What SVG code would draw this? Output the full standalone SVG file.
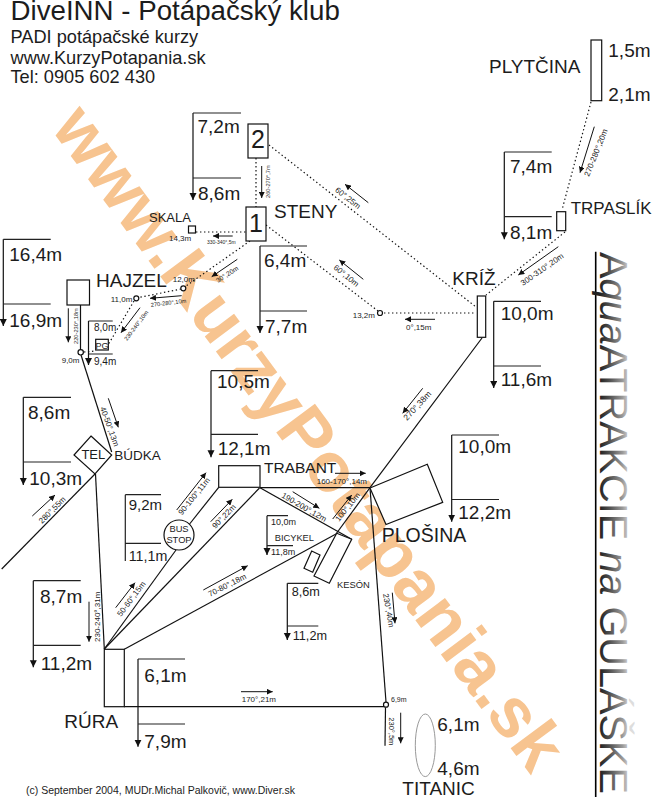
<svg xmlns="http://www.w3.org/2000/svg" width="653" height="800" viewBox="0 0 653 800">
<style>
text{font-family:"Liberation Sans",Arial,sans-serif;fill:#1c1c1c}
.wm{font-size:70px;font-weight:bold;fill:#f7c490}
.s{fill:#fff;stroke:#111;stroke-width:1.2}
.l{fill:none;stroke:#111;stroke-width:1.2}
.d{fill:none;stroke:#111;stroke-width:1.2;stroke-dasharray:1.4 2.6}
.a{fill:none;stroke:#111;stroke-width:1;marker-end:url(#ah)}
.b{fill:none;stroke:#222;stroke-width:1.2}
.bv{fill:none;stroke:#111;stroke-width:1.2;marker-end:url(#ah2)}
.n{font-size:19px}
.m{font-size:19px}
.t5{font-size:5.7px}
.t8{font-size:8px}
</style>
<defs>
<marker id="ah" markerUnits="userSpaceOnUse" markerWidth="7" markerHeight="6" refX="6" refY="3" orient="auto"><path d="M0 0L6 3L0 6z" fill="#111"/></marker>
<marker id="ah2" markerUnits="userSpaceOnUse" markerWidth="8" markerHeight="8" refX="7" refY="3.5" orient="auto"><path d="M0 0L7 3.5L0 7z" fill="#111"/></marker>
<linearGradient id="gr" gradientUnits="userSpaceOnUse" x1="0" y1="0" x2="0" y2="-30"><stop offset="0" stop-color="#222"/><stop offset="0.35" stop-color="#555"/><stop offset="0.75" stop-color="#999"/><stop offset="1" stop-color="#ddd"/></linearGradient>
</defs>
<text class="wm" transform="translate(50 128) rotate(53.4)">www.KurzyPotapania.sk</text>

<g id="header">
<text x="10.5" y="20" font-size="27.7">DiveINN - Potápačský klub</text>
<text x="10.5" y="43.3" font-size="18.2">PADI potápačské kurzy</text>
<text x="10.5" y="64" font-size="18.2">www.KurzyPotapania.sk</text>
<text x="10.5" y="83.3" font-size="18.2">Tel: 0905 602 430</text>
</g>

<g id="connectors">
<path class="d" d="M256 158V207"/>
<path class="d" d="M269 145L476 307"/>
<path class="d" d="M266 225L378 311"/>
<path class="d" d="M196 232H246"/>
<path class="d" d="M384 313H476"/>
<path class="d" d="M591 102L562 210"/>
<path class="d" d="M565 232L486 295"/>
<path class="d" d="M250 241L186 286"/>
<path class="d" d="M181 289L139 297.5"/>
<path class="d" d="M134 301L108 345"/>
<path class="d" d="M84 352L96 351"/>
<path class="l" d="M80.5 305V350"/>
<path class="l" d="M81 355L111.7 452"/>
<path class="l" d="M95 474L1.7 569"/>
<path class="l" d="M95.5 474L104.3 649"/>
<path class="l" d="M482 338L370 487.7"/>
<path class="l" d="M260 487.7H370"/>
<path class="l" d="M260 487.7L351.7 539.3"/>
<path class="l" d="M370 487.7L336 534"/>
<path class="l" d="M336 534L124.3 649.3"/>
<path class="l" d="M218.7 487.3L189.6 524"/>
<path class="l" d="M176 550L104.3 649"/>
<path class="l" d="M259.5 488L104.3 649"/>
<path class="l" d="M370 487.7L386 702"/>
<path class="l" d="M124 706.7H384"/>
<path class="l" d="M385.5 707.5L385 745.7"/>

<path class="a" d="M261.7 166V198"/>
<text class="t5" transform="translate(270 198) rotate(-90)">260-270°,7m</text>
<path class="a" d="M232.7 236H213"/>
<text font-size="5" x="207" y="244">330-340°,5m</text>
<path class="a" d="M237.3 259.3L211.7 276.7"/>
<text font-size="6.7" transform="translate(218 283) rotate(-33)">30°,20m</text>
<path class="a" d="M181.7 295.7L150 298.3"/>
<text class="t5" transform="translate(151 307) rotate(-7)">270-280°,10m</text>
<path class="a" d="M140 307.7L121 332.7"/>
<text class="t5" transform="translate(127 341) rotate(-53)">230-240°,10m</text>
<path class="a" d="M68.3 308.3V342.3"/>
<text class="t5" transform="translate(77.5 344) rotate(-90)">220-230°,18m</text>
<path class="a" d="M363.3 279.3L339.3 260"/>
<text class="t8" transform="translate(333 268.5) rotate(39)">60°,10m</text>
<path class="a" d="M368.3 202.7L345 184.3"/>
<text class="t8" transform="translate(334.5 191) rotate(38)">60°,25m</text>
<path class="a" d="M435 319.3H405"/>
<text class="t8" x="406" y="330">0°,15m</text>
<path class="a" d="M594.3 126.7L580 172.7"/>
<text class="t8" transform="translate(589 177) rotate(-68)">270-280°,20m</text>
<path class="a" d="M558.3 246.7L518.3 275"/>
<text class="t8" transform="translate(523 286) rotate(-35)">300-310°,20m</text>
<path class="a" d="M422.7 388.3L402.7 413.3"/>
<text font-size="8.5" transform="translate(407 421) rotate(-47)">270°,38m</text>
<path class="a" d="M108.3 398.3L118.3 427.3"/>
<text class="t8" transform="translate(100 408) rotate(70)">40-50°,13m</text>
<path class="a" d="M32.3 516L55 495"/>
<text class="t8" transform="translate(42 524) rotate(-45)">280°,55m</text>
<path class="a" d="M89 601.7V641.7"/>
<text class="t8" transform="translate(100 642) rotate(-90)">230-240°,31m</text>
<path class="a" d="M176.7 510L206 472.7"/>
<text class="t8" transform="translate(182 515.5) rotate(-51)">90-100°,11m</text>
<path class="a" d="M210.7 521.7L232.3 499.3"/>
<text class="t8" transform="translate(215.5 529) rotate(-46)">90°,22m</text>
<path class="a" d="M115.7 607.7L135 582.7"/>
<text class="t8" transform="translate(121 617) rotate(-53)">50-60°,15m</text>
<path class="a" d="M203.3 590L247.7 565.7"/>
<text class="t8" transform="translate(210 597) rotate(-27)">70-80°,18m</text>
<path class="a" d="M292.7 491.7L319.3 508.3"/>
<text class="t8" transform="translate(281 497) rotate(30)">190-200°,12m</text>
<path class="a" d="M335 473.3H365.7"/>
<text class="t8" x="316.7" y="484.3">160-170°,14m</text>
<path class="a" d="M332.7 519L351.7 495"/>
<text class="t8" transform="translate(339 522) rotate(-51)">100°,10m</text>
<path class="a" d="M392.3 592.7L395 623.3"/>
<text class="t8" transform="translate(383 594) rotate(80)">230°,40m</text>
<path class="a" d="M241 691.7H272.7"/>
<text class="t8" x="241.7" y="702">170°,21m</text>
<path class="a" d="M400.7 712.7V743.3"/>
<text font-size="7.5" transform="translate(389 717.3) rotate(90)">230°,5m</text>
</g>

<g id="node-2">
<rect class="s" x="248" y="124" width="20" height="34"/>
<text x="258" y="148" font-size="25" text-anchor="middle">2</text>
<path class="bv" d="M193 113V200"/><path class="b" d="M193 113H241M193 178H241"/>
<text class="m" x="197.5" y="133">7,2m</text><text class="m" x="198" y="200">8,6m</text>
</g>
<g id="node-1">
<rect class="s" x="246" y="207" width="20" height="34"/>
<text x="256" y="232" font-size="25" text-anchor="middle">1</text>
<text class="n" x="274" y="218">STENY</text>
<path class="bv" d="M260 246V333"/><path class="b" d="M260 246H307M260 311H307"/>
<text class="m" x="264" y="266.7">6,4m</text><text class="m" x="265" y="333">7,7m</text>
</g>
<g id="node-skala">
<rect class="s" x="188.5" y="226" width="7" height="7"/>
<text x="149" y="222" font-size="13">SKALA</text>
<text x="169" y="240.5" font-size="8">14,3m</text>
</g>
<g id="node-hajzel">
<rect class="s" x="67" y="280" width="22.5" height="25"/>
<text class="n" x="96" y="287.3">HAJZEL</text>
<path class="bv" d="M3.3 239.3V326"/><path class="b" d="M3.3 239.3H50.7M3.3 304H50.7"/>
<text class="m" x="9.3" y="261">16,4m</text><text class="m" x="9.3" y="326.7">16,9m</text>
</g>
<g id="node-12m"><circle class="s" cx="183.3" cy="288.3" r="2.5"/><text x="172.7" y="281.7" font-size="8">12,0m</text></g>
<g id="node-11m"><circle class="s" cx="136.3" cy="298.3" r="2.5"/><text x="110.7" y="301.7" font-size="8">11,0m</text></g>
<g id="node-9m"><circle class="l" cx="80.7" cy="352.3" r="2.7"/><text x="61.7" y="362.7" font-size="8">9,0m</text></g>
<g id="node-pg">
<rect class="s" x="95.7" y="339.3" width="12.6" height="10.7"/>
<text x="102" y="348.5" font-size="9" text-anchor="middle">PG</text>
<path class="bv" d="M88.5 321V365"/><path class="b" d="M88.5 321H112.7M88.5 354H112.7"/>
<text x="94" y="331" font-size="10">8,0m</text><text x="94" y="365" font-size="10">9,4m</text>
</g>
<g id="node-13m"><circle class="s" cx="380" cy="313" r="2.5"/><text x="352.7" y="318" font-size="8">13,2m</text></g>
<g id="node-kriz">
<rect class="s" x="477.3" y="296" width="8.4" height="41.3"/>
<text class="n" x="452.3" y="285">KRÍŽ</text>
<path class="bv" d="M493.7 301.3V388"/><path class="b" d="M493.7 301.3H541M493.7 366H541"/>
<text class="m" x="500.7" y="320">10,0m</text><text class="m" x="500.7" y="386">11,6m</text>
</g>
<g id="node-plytcina">
<rect class="s" x="591" y="40" width="10.7" height="60.7"/>
<text class="n" x="489" y="73.3">PLYTČINA</text>
<text class="m" x="608.3" y="57.3">1,5m</text><text class="m" x="608.3" y="101">2,1m</text>
</g>
<g id="node-trpaslik">
<rect class="s" x="556.7" y="211.7" width="9" height="19"/>
<text x="570.7" y="214.3" font-size="17">TRPASLÍK</text>
<path class="bv" d="M504.3 152V239.3"/><path class="b" d="M504.3 152H551.7M504.3 216.7H551.7"/>
<text class="m" x="510" y="172.7">7,4m</text><text class="m" x="510" y="239.3">8,1m</text>
</g>
<g id="node-tel">
<path class="s" d="M91 436L111.7 455L95 474L74 455z"/>
<text x="93.3" y="459.3" font-size="13" text-anchor="middle">TEL</text>
<text x="114.3" y="459.5" font-size="13.5">BÚDKA</text>
<path class="bv" d="M23.3 397.3V485"/><path class="b" d="M23.3 397.3H71M23.3 462H71"/>
<text class="m" x="28" y="419.3">8,6m</text><text class="m" x="29.3" y="485">10,3m</text>
</g>
<g id="node-busstop">
<circle class="s" cx="179" cy="535" r="15"/>
<text x="179" y="532.3" font-size="9.3" text-anchor="middle">BUS</text>
<text x="179" y="542.7" font-size="9.3" text-anchor="middle">STOP</text>
<path class="b" d="M125.3 494.7V561M125.3 494.7H161M125.3 543.3H161"/>
<text x="128.7" y="510" font-size="15">9,2m</text><text x="128.7" y="561" font-size="14.3">11,1m</text>
</g>
<g id="node-trabant">
<rect class="s" x="218.7" y="465.7" width="41.3" height="21.6"/>
<text x="264" y="472.7" font-size="15.5">TRABANT</text>
<path class="bv" d="M211 370.7V457.3"/><path class="b" d="M211 370.7H258M211 434.3H258"/>
<text class="m" x="217" y="388.3">10,5m</text><text class="m" x="217.7" y="455">12,1m</text>
</g>
<g id="node-plosina">
<path class="s" d="M370 488L427.3 464.3L442.7 502.3L386 524.5z"/>
<text x="381.7" y="542.3" font-size="19.5">PLOŠINA</text>
<path class="bv" d="M451.7 435V521.7"/><path class="b" d="M451.7 435H499M451.7 499.5H499"/>
<text class="m" x="458.3" y="452.7">10,0m</text><text class="m" x="458.3" y="519.3">12,2m</text>
</g>
<g id="node-bicykel">
<path class="bv" d="M267 515.7V555"/><path class="b" d="M267 515.7H288M267 545.7H293"/>
<text x="271" y="525" font-size="9">10,0m</text><text x="271" y="555" font-size="9">11,8m</text>
<text x="274.7" y="540.7" font-size="9.3">BICYKEL</text>
<path class="s" d="M304 568.3L312.7 572.3L320 555L311.7 551z"/>
</g>
<g id="node-keson">
<path class="s" d="M336.7 533.3L351.7 539.3L329.3 583.3L314 576z"/>
<text x="337" y="588.3" font-size="9.4">KESÓN</text>
<path class="bv" d="M287.3 583.3V640"/><path class="b" d="M287.3 583.3H318.3M287.3 626H318.3"/>
<text x="291.7" y="595.7" font-size="12.7">8,6m</text><text x="292.7" y="640" font-size="12.7">11,2m</text>
</g>
<g id="node-rura">
<rect class="s" x="104.3" y="649.3" width="20" height="57.4"/>
<text class="n" x="64.3" y="727.7">RÚRA</text>
<path class="bv" d="M33.3 580.7V667.3"/><path class="b" d="M33.3 580.7H80.7M33.3 645.3H80.7"/>
<text class="m" x="40" y="602.7">8,7m</text><text class="m" x="40.7" y="670">11,2m</text>
<path class="bv" d="M138 659V746.7"/><path class="b" d="M138 659H185M138 724H185"/>
<text class="m" x="144.3" y="681.7">6,1m</text><text class="m" x="144.3" y="747.7">7,9m</text>
</g>
<g id="node-69m"><circle class="l" cx="386" cy="704.7" r="2.5"/><text x="391" y="702.3" font-size="7">6,9m</text></g>
<g id="node-titanic">
<ellipse cx="425.3" cy="745.3" rx="10" ry="31.3" fill="none" stroke="#999" stroke-width="1"/>
<text class="m" x="437.3" y="730.7">6,1m</text><text class="m" x="437.3" y="775">4,6m</text>
<text class="n" x="402.3" y="795">TITANIC</text>
</g>
<text x="26" y="794" font-size="10.5">(c) September 2004, MUDr.Michal Palkovič, www.Diver.sk</text>
<path d="M595.7 251.7V797" fill="none" stroke="#000" stroke-width="1.6"/>
<text transform="translate(600 252) rotate(90)" font-size="39.7" style="fill:url(#gr)">A<tspan font-style="italic">qua</tspan>ATRAKCIE <tspan font-style="italic">na</tspan> GULÁŠKE</text>
</svg>
